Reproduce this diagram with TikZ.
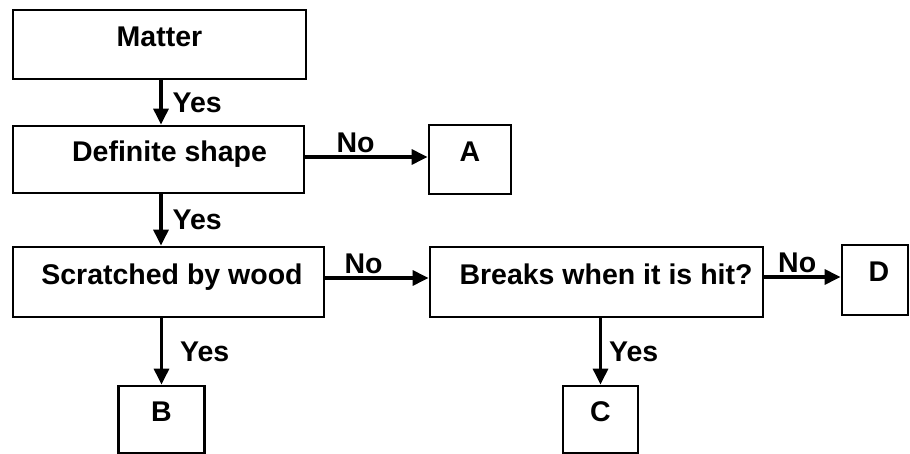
\documentclass[tikz,border=0pt]{standalone}
\usepackage{fontspec}
\setmainfont{Liberation Sans}
\usetikzlibrary{arrows.meta}
\begin{document}
\begin{tikzpicture}[x=1pt,y=-1pt,
  box/.style={draw, line width=2.8pt, inner sep=0pt,
    font=\fontsize{28.5}{34}\selectfont\bfseries, text height=20pt, text depth=16pt},
  lab/.style={inner sep=0pt, font=\fontsize{28.5}{34}\selectfont\bfseries,
    text height=20pt, text depth=0pt},
  arr/.style={line width=3.2pt, -{Triangle[length=16pt,width=15pt]}}]
\useasboundingbox (0,0) rectangle (910,454);
\fill[white] (0,0) rectangle (910,454);
\node[box, minimum width=293pt, minimum height=69pt] (mat) at (159.5,44.5) {Matter};
\node[box, minimum width=291pt, minimum height=67pt] (def) at (158.5,159.5) {\hspace*{22pt}Definite shape};
\node[box, minimum width=82pt, minimum height=69pt] (a) at (470,159.5) {A};
\node[box, minimum width=311pt, minimum height=70pt] (scr) at (168.5,282) {\hspace*{7pt}Scratched by wood};
\node[box, minimum width=333pt, minimum height=70pt] (brk) at (596.5,282) {\hspace*{19pt}Breaks when it is hit?};
\node[box, minimum width=66pt, minimum height=70pt] (d) at (875,280) {\hspace*{8pt}D};
\node[box, minimum width=86pt, minimum height=67pt] (b) at (161.5,419.5) {B};
\node[box, minimum width=75pt, minimum height=67pt] (c) at (600.5,419.5) {C};
\draw[arr] ([xshift=1.5pt]mat.south) -- ([xshift=1.5pt]mat.south |- def.north)
  node[lab, midway, right=10pt] (y1) {Yes};
\draw[arr] ([xshift=2.5pt]def.south) -- ([xshift=2.5pt]def.south |- scr.north)
  node[lab, midway, right=10pt] (y2) {Yes};
\draw[arr] (b.north |- scr.south) -- (b.north)
  node[lab, midway, right=17pt] (y3) {Yes};
\draw[arr] (c.north |- brk.south) -- (c.north)
  node[lab, midway, right=7pt] (y4) {Yes};
\draw[arr] ([yshift=2.5pt]def.east) -- ([yshift=2.5pt]def.east -| a.west)
  node[lab, pos=0.41, above=3pt] (n1) {No};
\draw[arr] ([yshift=4pt]scr.east) -- ([yshift=4pt]brk.west)
  node[lab, pos=0.37, above=3pt] (n2) {No};
\draw[arr] ([yshift=5pt]brk.east) -- ([yshift=5pt]brk.east -| d.west)
  node[lab, pos=0.43, above=3pt] (n3) {No};
\end{tikzpicture}
\end{document}
